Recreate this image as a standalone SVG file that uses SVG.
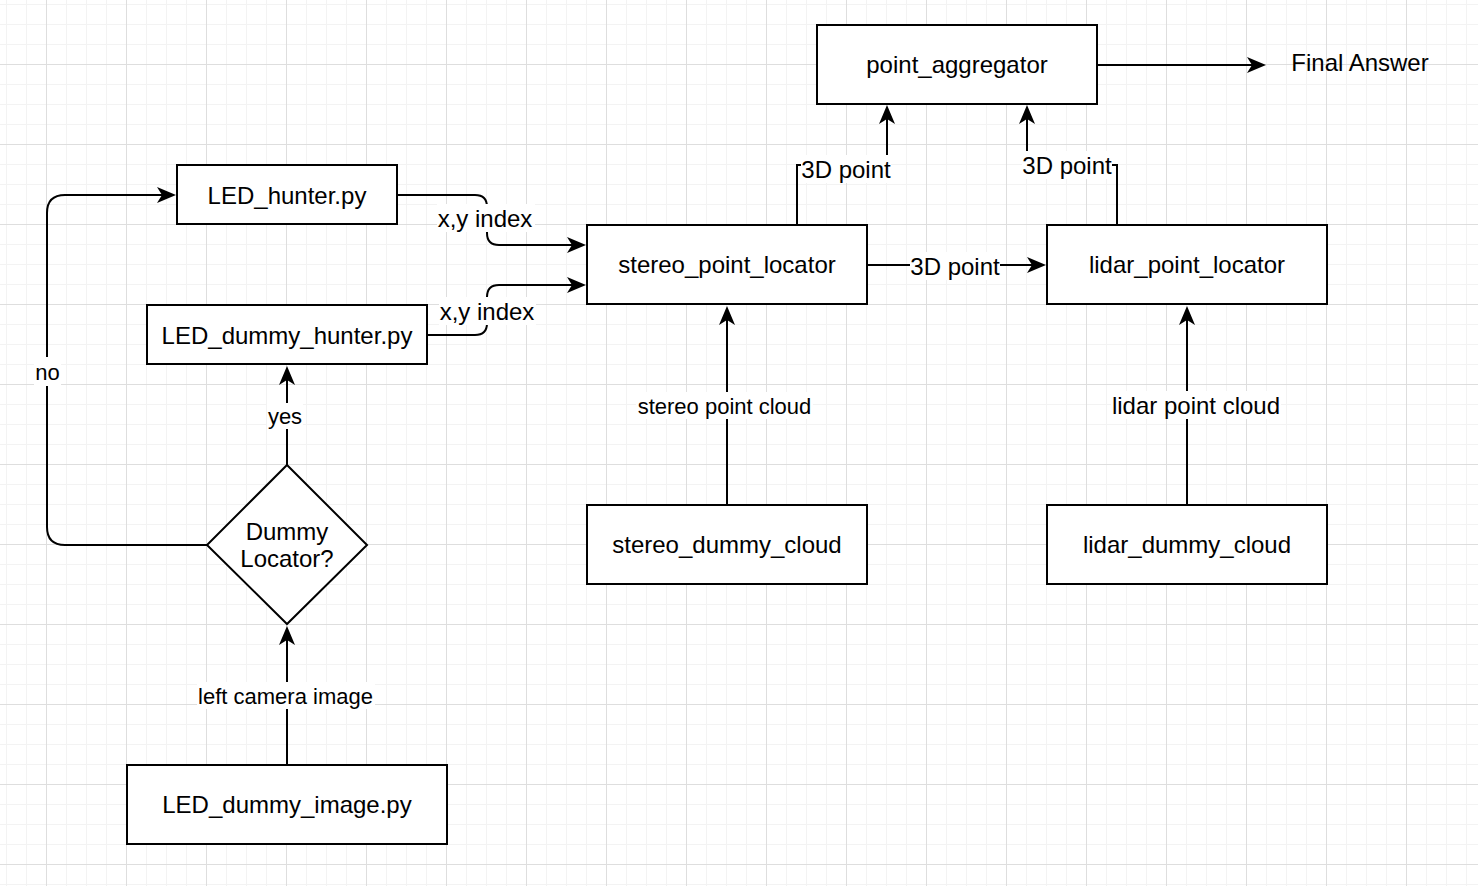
<svg xmlns="http://www.w3.org/2000/svg" width="1478" height="886" viewBox="0 0 1478 886">
  <style>
    .box { fill: #ffffff; stroke: #000000; stroke-width: 2; }
    .edge { fill: none; stroke: #000000; stroke-width: 2; }
    .lbg { fill: #ffffff; stroke: none; }
    text { font-family: "Liberation Sans", Arial, Helvetica, sans-serif; fill: #000000; text-anchor: middle; }
    .t24 { font-size: 24px; }
    .t22 { font-size: 22px; }
  </style>
  <defs>
    <pattern id="grid" patternUnits="userSpaceOnUse" x="46" y="64" width="80" height="80">
      <rect x="20" y="0" width="1" height="80" fill="#f3f3f3"/>
      <rect x="40" y="0" width="1" height="80" fill="#f3f3f3"/>
      <rect x="60" y="0" width="1" height="80" fill="#f3f3f3"/>
      <rect x="0" y="20" width="80" height="1" fill="#f3f3f3"/>
      <rect x="0" y="40" width="80" height="1" fill="#f3f3f3"/>
      <rect x="0" y="60" width="80" height="1" fill="#f3f3f3"/>
      <rect x="0" y="0" width="1" height="80" fill="#dedede"/>
      <rect x="0" y="0" width="80" height="1" fill="#dedede"/>
    </pattern>
    <marker id="arrow" markerUnits="userSpaceOnUse" viewBox="-12 -9 21 18" refX="0" refY="0" markerWidth="21" markerHeight="18" orient="auto">
      <path d="M8,0 L-11,-8 L-6,0 L-11,8 Z" fill="#000000"/>
    </marker>
  </defs>

  <!-- background grid -->
  <rect x="0" y="0" width="1478" height="886" fill="#ffffff"/>
  <rect x="0" y="0" width="1478" height="886" fill="url(#grid)"/>

  <!-- connectors -->
  <g id="connectors">
    <path class="edge" d="M1097 65 H1258" marker-end="url(#arrow)"/>
    <path class="edge" d="M797 225 V165 H887 V113" marker-end="url(#arrow)"/>
    <path class="edge" d="M1117 225 V165 H1027 V113" marker-end="url(#arrow)"/>
    <path class="edge" d="M867 265 H1038" marker-end="url(#arrow)"/>
    <path class="edge" d="M397 195 H475 Q487 195 487 207 V233 Q487 245 499 245 H578" marker-end="url(#arrow)"/>
    <path class="edge" d="M427 335 H475 Q487 335 487 323 V297 Q487 285 499 285 H578" marker-end="url(#arrow)"/>
    <path class="edge" d="M207 545 H65 Q47 545 47 527 V213 Q47 195 65 195 H168" marker-end="url(#arrow)"/>
    <path class="edge" d="M287 465 V374" marker-end="url(#arrow)"/>
    <path class="edge" d="M287 765 V634" marker-end="url(#arrow)"/>
    <path class="edge" d="M727 505 V314" marker-end="url(#arrow)"/>
    <path class="edge" d="M1187 505 V314" marker-end="url(#arrow)"/>

    <!-- edge labels -->
    <rect class="lbg" x="801" y="155" width="90" height="28"/>
    <text class="t24" x="846" y="177.5">3D point</text>
    <rect class="lbg" x="1022" y="151" width="90" height="28"/>
    <text class="t24" x="1067" y="173.5">3D point</text>
    <rect class="lbg" x="910" y="252" width="90" height="28"/>
    <text class="t24" x="955" y="275">3D point</text>
    <rect class="lbg" x="437" y="204" width="98" height="28"/>
    <text class="t24" x="485" y="226.5">x,y index</text>
    <rect class="lbg" x="439" y="297" width="97" height="28"/>
    <text class="t24" x="487" y="319.5">x,y index</text>
    <rect class="lbg" x="34" y="357" width="27" height="29"/>
    <text class="t22" x="47.5" y="379.5">no</text>
    <rect class="lbg" x="267" y="403" width="36" height="26"/>
    <text class="t22" x="285" y="424">yes</text>
    <rect class="lbg" x="197" y="682" width="178" height="27"/>
    <text class="t22" x="285.5" y="703.5">left camera image</text>
    <rect class="lbg" x="636" y="392" width="177" height="27"/>
    <text class="t22" x="724.5" y="413.5">stereo point cloud</text>
    <rect class="lbg" x="1111" y="391" width="170" height="28"/>
    <text class="t24" x="1196" y="413.5">lidar point cloud</text>
  </g>

  <!-- nodes -->
  <g id="point_aggregator">
    <rect class="box" x="817" y="25" width="280" height="79"/>
    <text class="t24" x="957" y="73">point_aggregator</text>
  </g>
  <g id="final_answer">
    <text class="t24" x="1360" y="70.5">Final Answer</text>
  </g>
  <g id="led_hunter">
    <rect class="box" x="177" y="165" width="220" height="59"/>
    <text class="t24" x="287" y="203.5">LED_hunter.py</text>
  </g>
  <g id="led_dummy_hunter">
    <rect class="box" x="147" y="305" width="280" height="59"/>
    <text class="t24" x="287" y="343.5">LED_dummy_hunter.py</text>
  </g>
  <g id="stereo_point_locator">
    <rect class="box" x="587" y="225" width="280" height="79"/>
    <text class="t24" x="727" y="273">stereo_point_locator</text>
  </g>
  <g id="lidar_point_locator">
    <rect class="box" x="1047" y="225" width="280" height="79"/>
    <text class="t24" x="1187" y="273">lidar_point_locator</text>
  </g>
  <g id="stereo_dummy_cloud">
    <rect class="box" x="587" y="505" width="280" height="79"/>
    <text class="t24" x="727" y="553">stereo_dummy_cloud</text>
  </g>
  <g id="lidar_dummy_cloud">
    <rect class="box" x="1047" y="505" width="280" height="79"/>
    <text class="t24" x="1187" y="553">lidar_dummy_cloud</text>
  </g>
  <g id="dummy_locator">
    <polygon class="box" points="287,465 367,545 287,624 207,545"/>
    <text class="t24" x="287" y="540">Dummy</text>
    <text class="t24" x="287" y="567">Locator?</text>
  </g>
  <g id="led_dummy_image">
    <rect class="box" x="127" y="765" width="320" height="79"/>
    <text class="t24" x="287" y="813">LED_dummy_image.py</text>
  </g>
</svg>
